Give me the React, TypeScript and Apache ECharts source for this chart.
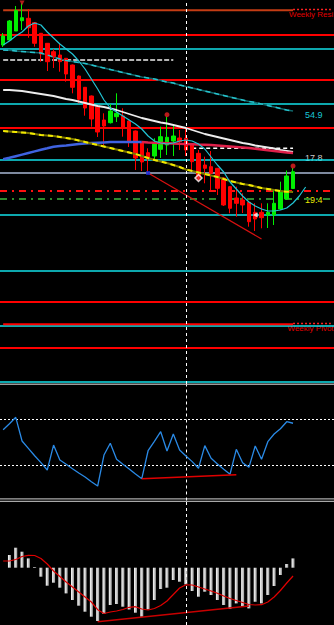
import React, { useEffect, useRef } from "react";
import * as echarts from "echarts";

// 53 bar slots: B-1 (partly visible) .. B51 (empty space on the right)
const barLabels: string[] = Array.from({ length: 53 }, (_, k) => `B${k - 1}`);
const cursorBar = "B28";

// price panel (OHLC from B-1 to B45)
const opens = [355, 360, 369, 379.3, 381.7, 377.3, 366.7, 356.7, 348.3, 345, 341.7, 335, 324, 312.7, 304, 293.3, 280, 277.3, 283.3, 284, 279, 269, 257, 247.3, 244, 250.7, 255, 259, 262, 261.7, 256, 246.7, 235, 233.3, 231.7, 222, 213.3, 202, 200, 197.7, 187.7, 187.7, 185, 185, 191, 201, 211.5];
const closes = [364, 379, 389.3, 382.3, 372.3, 356.7, 346, 338.3, 343.3, 338.3, 326, 312.7, 300.7, 292, 281, 268, 274, 289, 286.7, 271.7, 258.3, 242, 238, 241.7, 256.7, 263.3, 262.7, 264, 258.3, 250, 238.3, 223.3, 231.7, 226.7, 211.7, 195, 191.7, 196.7, 195, 178.3, 181, 182.3, 187.7, 196.7, 209, 224, 228.3];
const lows = [353, 359, 369, 370, 362.3, 353.3, 338.3, 329, 332, 328.3, 318.3, 306.7, 296.7, 284.3, 273.3, 263, 255, 276.5, 278, 263.3, 253, 230, 229, 228, 240, 242, 245, 244, 250, 244, 230, 220, 216.7, 210, 205, 194, 186.7, 183.3, 187, 173.3, 169, 171.7, 172, 175, 190, 200, 211];
const highs = [367, 380, 394, 396.7, 391, 378, 367, 357, 351, 356.7, 342, 335.5, 324.5, 313, 304.5, 295, 286.7, 295.7, 306.7, 291.7, 279.5, 269.5, 257.5, 251.7, 261.7, 273.3, 283.3, 274, 270, 271, 256.5, 250, 243.3, 249, 232, 222.5, 214, 213.3, 206.7, 198, 196.7, 196.7, 196.7, 210, 218.3, 229.5, 232];

// moving averages
const fastMa = [355, 359, 364, 368, 374, 377, 375, 368, 362, 356, 351, 346, 339, 331, 321, 311, 300, 292, 288, 284, 280, 276, 271, 264, 259, 257, 256, 257, 259, 260, 259, 256, 251, 243, 235, 228, 218, 211, 204, 198, 194, 191, 189, 189, 190, 192, 197, 204, 213];
const slowMa = [350, 349.7, 349, 348.5, 348, 347.5, 347, 345, 343, 341, 339.5, 338.5, 337.5, 336.5, 335, 333.5, 332, 330.5, 329, 327.5, 326, 324.5, 323, 322, 321, 319.5, 318, 317, 315, 313.5, 312, 310.5, 309, 307.5, 306, 304.5, 303, 301.5, 300, 298.5, 297.5, 296, 294.5, 293, 291.5, 290, 289];
const whiteMa = [310, 310, 309.5, 309, 308, 307, 306, 305, 304, 302.5, 301, 300, 298.5, 297, 295.5, 294, 293, 291.5, 290, 288, 286, 284, 282, 280.5, 279, 277.5, 276.5, 275, 273.5, 272, 270, 268, 266, 264.5, 263, 261.5, 260, 258.5, 257, 256, 254.5, 253.5, 252.5, 251.5, 250, 249, 248];
const blueMa = [240.7, 242.2, 243.8, 245.4, 247, 248.6, 250.2, 251.7, 253.3, 254, 254.6, 255.3, 256, 256.6, 257, 257.3, 257.6, 257.9, 258, 258, 258, 258, 258];
const crimsonMa = [258, 257.5, 257.2, 257, 256.8, 256.5, 256.2, 256, 255.7, 255.4, 255.2, 255, 254.5, 254, 253.5, 253, 252.5, 252, 251.2, 250.5, 249.8, 249, 248.3, 247.6, 247];
const yellowMa = [269, 268.5, 268, 267.5, 267, 266, 265, 264.5, 264, 263, 262, 261, 259.5, 258, 256.5, 255, 253.5, 252, 250.5, 249, 247.5, 246, 244, 242, 240, 238.5, 237, 235, 233, 230.5, 229, 227.5, 226, 224.5, 223, 221, 219, 217.5, 216, 215, 213.5, 212, 211, 210, 209, 208.3, 208];

// horizontal levels
const redLevels = [365.3, 320, 272, 98, 52.7];
const cyanLevels = [351.7, 296, 240.7, 185, 129.7, 74, 18.3];
const steelLevel = 227.7;
const redDashDotLevel = 209.7;
const greenDashDotLevel = 201;
const weeklyResistance = 389.7;
const weeklyPivot = 75.7;
const greyDashLevel = 340;
const whiteDashLevel = 251.7;
const priceTrend: [string, number][] = [["B22", 227], ["B40", 161]];

// markers
const fractalDown: [string, number][] = [["B2", 397]];
const blueMarks: [string, number][] = [["B22", 227]];
const redDots: [string, number][] = [["B25", 285.3], ["B45", 234]];
const diamondMarks: [string, number][] = [["B30", 222]];
const leftArrows: [string, number][] = [["B39", 185]];

// oscillator panel
const rsiValues = [61, 66.2, 71.7, 51.3, 45, 38.6, 32.6, 26.3, 47.8, 34.9, 31.2, 27.4, 23.7, 20.3, 16.2, 12.5, 39.2, 49.3, 35.5, 31.2, 27.2, 22.8, 18.8, 42.9, 51, 59.3, 42.7, 57.3, 43.5, 38.4, 33.5, 27.8, 47.3, 36.4, 31.5, 26.9, 22.6, 44.1, 32.6, 28.6, 47, 35.5, 50.7, 57.3, 61.9, 67.9, 66.6];
const rsiLevels = [70, 30];
const rsiTrend: [string, number][] = [["B21", 18.8], ["B36", 22.2]];

// MACD panel (B0..B45 histogram, B-1..B45 signal)
const macdHist = [0.127, 0.2, 0.16, 0.093, 0.007, -0.09, -0.18, -0.15, -0.2, -0.257, -0.323, -0.38, -0.44, -0.49, -0.533, -0.463, -0.373, -0.363, -0.39, -0.417, -0.45, -0.49, -0.417, -0.323, -0.213, -0.2, -0.123, -0.14, -0.167, -0.233, -0.29, -0.24, -0.273, -0.323, -0.373, -0.413, -0.357, -0.383, -0.407, -0.34, -0.357, -0.273, -0.183, -0.073, 0.037, 0.093];
const macdSignal = [0.067, 0.067, 0.082, 0.112, 0.124, 0.122, 0.092, 0.037, -0.033, -0.088, -0.143, -0.193, -0.243, -0.293, -0.343, -0.42, -0.458, -0.443, -0.433, -0.418, -0.396, -0.39, -0.413, -0.423, -0.408, -0.378, -0.333, -0.268, -0.203, -0.171, -0.173, -0.193, -0.213, -0.233, -0.256, -0.283, -0.308, -0.328, -0.348, -0.368, -0.373, -0.37, -0.343, -0.293, -0.228, -0.153, -0.083];
const macdTrend: [string, number][] = [["B14", -0.54], ["B38", -0.383]];

const lineLabels = [
  { text: "54.9", y: 115, color: "#19c8d8" },
  { text: "17.8", y: 158.4, color: "#c8c8c8" },
  { text: "19.4", y: 199.7, color: "#e8e800" },
];

const GL = -4.64;
const GW = 340.84;

function vMark() {
  return {
    silent: true,
    symbol: ["none", "none"],
    label: { show: false },
    z: 6,
    lineStyle: { color: "#ffffff", type: [3, 3], width: 1 },
    data: [{ xAxis: cursorBar }],
  };
}

function seg(points: [string, number][], color: string, width: number, type: any, axis = 0, z = 2) {
  return {
    type: "line",
    xAxisIndex: axis,
    yAxisIndex: axis,
    data: points,
    symbol: "none",
    silent: true,
    connectNulls: true,
    z,
    lineStyle: { color, width, type },
  };
}

function ma(values: number[], offset: number, color: string, width: number, type: any = "solid", z = 4) {
  return {
    type: "line",
    xAxisIndex: 0,
    yAxisIndex: 0,
    data: values.map((v, k) => [barLabels[offset + k], v]),
    symbol: "none",
    silent: true,
    z,
    lineStyle: { color, width, type },
  };
}

function marks(points: [string, number][], symbol: string, size: number, color: string, rotate = 0, border?: string) {
  return {
    type: "scatter",
    xAxisIndex: 0,
    yAxisIndex: 0,
    data: points,
    symbol,
    symbolSize: size,
    symbolRotate: rotate,
    silent: true,
    z: 6,
    itemStyle: border ? { color, borderColor: border, borderWidth: 1.5 } : { color },
  };
}

export default function App() {
  const ref = useRef<HTMLDivElement>(null);
  useEffect(() => {
    const chart = echarts.init(ref.current!, null, { renderer: "svg" });
    const levelLines: any[] = [
      ...redLevels.map((v) => ({ yAxis: v, lineStyle: { color: "#ff0000", width: 2, type: "solid" } })),
      ...cyanLevels.map((v) => ({ yAxis: v, lineStyle: { color: "#12e0e8", width: 1.5, type: "solid" } })),
      { yAxis: steelLevel, lineStyle: { color: "#a8b8d4", width: 1.5, type: "solid" } },
      { yAxis: redDashDotLevel, lineStyle: { color: "#ff1010", width: 2, type: [7, 5, 2, 5] } },
      { yAxis: greenDashDotLevel, lineStyle: { color: "#2e8b2e", width: 2, type: [7, 5, 2, 5] } },
    ];
    const option: any = {
      animation: false,
      backgroundColor: "#000000",
      grid: [
        { left: GL, width: GW, top: 0, height: 384 },
        { left: GL, width: GW, top: 384.5, height: 116 },
        { left: GL, width: GW, top: 501, height: 124 },
      ],
      xAxis: [0, 1, 2].map((g) => ({
        type: "category",
        gridIndex: g,
        data: barLabels,
        boundaryGap: true,
        show: false,
      })),
      yAxis: [
        { type: "value", gridIndex: 0, min: 16, max: 400, show: false, splitLine: { show: false } },
        { type: "value", gridIndex: 1, min: 0, max: 100, show: false, splitLine: { show: false } },
        { type: "value", gridIndex: 2, min: -0.573, max: 0.667, show: false, splitLine: { show: false } },
      ],
      graphic: [
        { type: "line", shape: { x1: 0, y1: 384.2, x2: 334, y2: 384.2 }, style: { stroke: "#9c9c9c", lineWidth: 1.5 }, silent: true },
        { type: "line", shape: { x1: 0, y1: 498.8, x2: 334, y2: 498.8 }, style: { stroke: "#a8a8a8", lineWidth: 1.2 }, silent: true },
        { type: "line", shape: { x1: 0, y1: 501.3, x2: 334, y2: 501.3 }, style: { stroke: "#a8a8a8", lineWidth: 1.2 }, silent: true },
        { type: "text", x: 289, y: 14.5, silent: true, style: { text: "Weekly Resi", fill: "#e00000", fontSize: 8, fontFamily: "Liberation Sans", align: "left", verticalAlign: "middle" } },
        { type: "text", x: 287.5, y: 328.5, silent: true, style: { text: "Weekly Pivot", fill: "#e00000", fontSize: 8, fontFamily: "Liberation Sans", align: "left", verticalAlign: "middle" } },
        ...lineLabels.map((l) => ({
          type: "text",
          x: 305,
          y: l.y,
          silent: true,
          style: { text: l.text, fill: l.color, fontSize: 9, fontFamily: "Liberation Sans", align: "left", verticalAlign: "middle" },
        })),
      ],
      series: [
        // level lines carrier (slow MA base)
        {
          type: "line",
          xAxisIndex: 0,
          yAxisIndex: 0,
          data: slowMa.map((v, k) => [barLabels[k], v]),
          symbol: "none",
          silent: true,
          z: 3,
          lineStyle: { color: "#106468", width: 1.5 },
          markLine: {
            silent: true,
            symbol: ["none", "none"],
            label: { show: false },
            z: 1,
            data: levelLines,
          },
        },
        seg([[barLabels[0], weeklyResistance], ["B45", weeklyResistance]], "#c43c14", 2, "solid"),
        seg([["B45", weeklyResistance + 0.8], ["B51", weeklyResistance + 0.8]], "#ff2020", 1.5, [2, 2]),
        seg([[barLabels[0], weeklyPivot], ["B45", weeklyPivot]], "#ff0000", 2, "solid"),
        seg([["B45", weeklyPivot + 0.8], ["B51", weeklyPivot + 0.8]], "#ff2020", 1.5, [2, 2]),
        seg([[barLabels[0], greyDashLevel], ["B26", greyDashLevel]], "#b4b4b4", 2, [5, 2]),
        seg([["B29", whiteDashLevel], ["B45", whiteDashLevel]], "#ffffff", 1.5, [4, 3], 0, 3),
        {
          type: "candlestick",
          xAxisIndex: 0,
          yAxisIndex: 0,
          barWidth: 4,
          silent: true,
          z: 3,
          data: opens.map((o, k) => [o, closes[k], lows[k], highs[k]]),
          itemStyle: { color: "#00f000", color0: "#ff0000", borderColor: "#00f000", borderColor0: "#ff0000", borderWidth: 1 },
          markLine: vMark(),
        },
        ma(slowMa, 0, "#26c2cc", 1.5, [5, 4], 4),
        ma(whiteMa, 0, "#ececec", 1.8),
        ma(blueMa, 0, "#3f62e0", 2.5),
        ma(crimsonMa, 22, "#e0204a", 2.5),
        ma(yellowMa, 0, "#7a7400", 2),
        ma(yellowMa, 0, "#f2ea00", 2, [5, 4], 5),
        ma(fastMa, 0, "#22c4d4", 1.2, "solid", 5),
        seg(priceTrend, "#d81010", 1.2, "solid", 0, 5),
        marks(fractalDown, "triangle", 5, "#e02020", 180),
        marks(blueMarks, "rect", 4, "#1428e0"),
        marks(redDots, "circle", 5, "#e82020"),
        marks(diamondMarks, "diamond", 7, "#ff3030", 0, "#ffffff"),
        marks(leftArrows, "triangle", 5, "#ffffff", 90),
        // RSI panel
        {
          type: "line",
          xAxisIndex: 1,
          yAxisIndex: 1,
          data: rsiValues,
          symbol: "none",
          silent: true,
          z: 4,
          lineStyle: { color: "#2a8ae6", width: 1.3 },
          markLine: {
            silent: true,
            symbol: ["none", "none"],
            label: { show: false },
            z: 2,
            data: [
              ...rsiLevels.map((v) => ({ yAxis: v, lineStyle: { color: "#ffffff", width: 1.2, type: [2, 2] } })),
              { xAxis: cursorBar, lineStyle: { color: "#ffffff", width: 1, type: [3, 3] } },
            ],
          },
        },
        seg(rsiTrend, "#e00000", 1.5, "solid", 1, 5),
        // MACD panel
        {
          type: "bar",
          xAxisIndex: 2,
          yAxisIndex: 2,
          barWidth: 3,
          silent: true,
          z: 3,
          data: ["-", ...macdHist],
          itemStyle: {
            color: new echarts.graphic.LinearGradient(0, 0, 1, 0, [
              { offset: 0, color: "#ffffff" },
              { offset: 1, color: "#9a9a9a" },
            ]),
          },
          markLine: vMark(),
        },
        {
          type: "line",
          xAxisIndex: 2,
          yAxisIndex: 2,
          data: macdSignal,
          symbol: "none",
          silent: true,
          z: 4,
          lineStyle: { color: "#e00000", width: 1.2 },
        },
        seg(macdTrend, "#c80000", 1.5, "solid", 2, 4),
      ],
    };
    chart.setOption(option);
    return () => chart.dispose();
  }, []);
  return (
    <div
      ref={ref}
      style={{ position: "fixed", left: 0, top: 0, width: 334, height: 625, background: "#000" }}
    />
  );
}
